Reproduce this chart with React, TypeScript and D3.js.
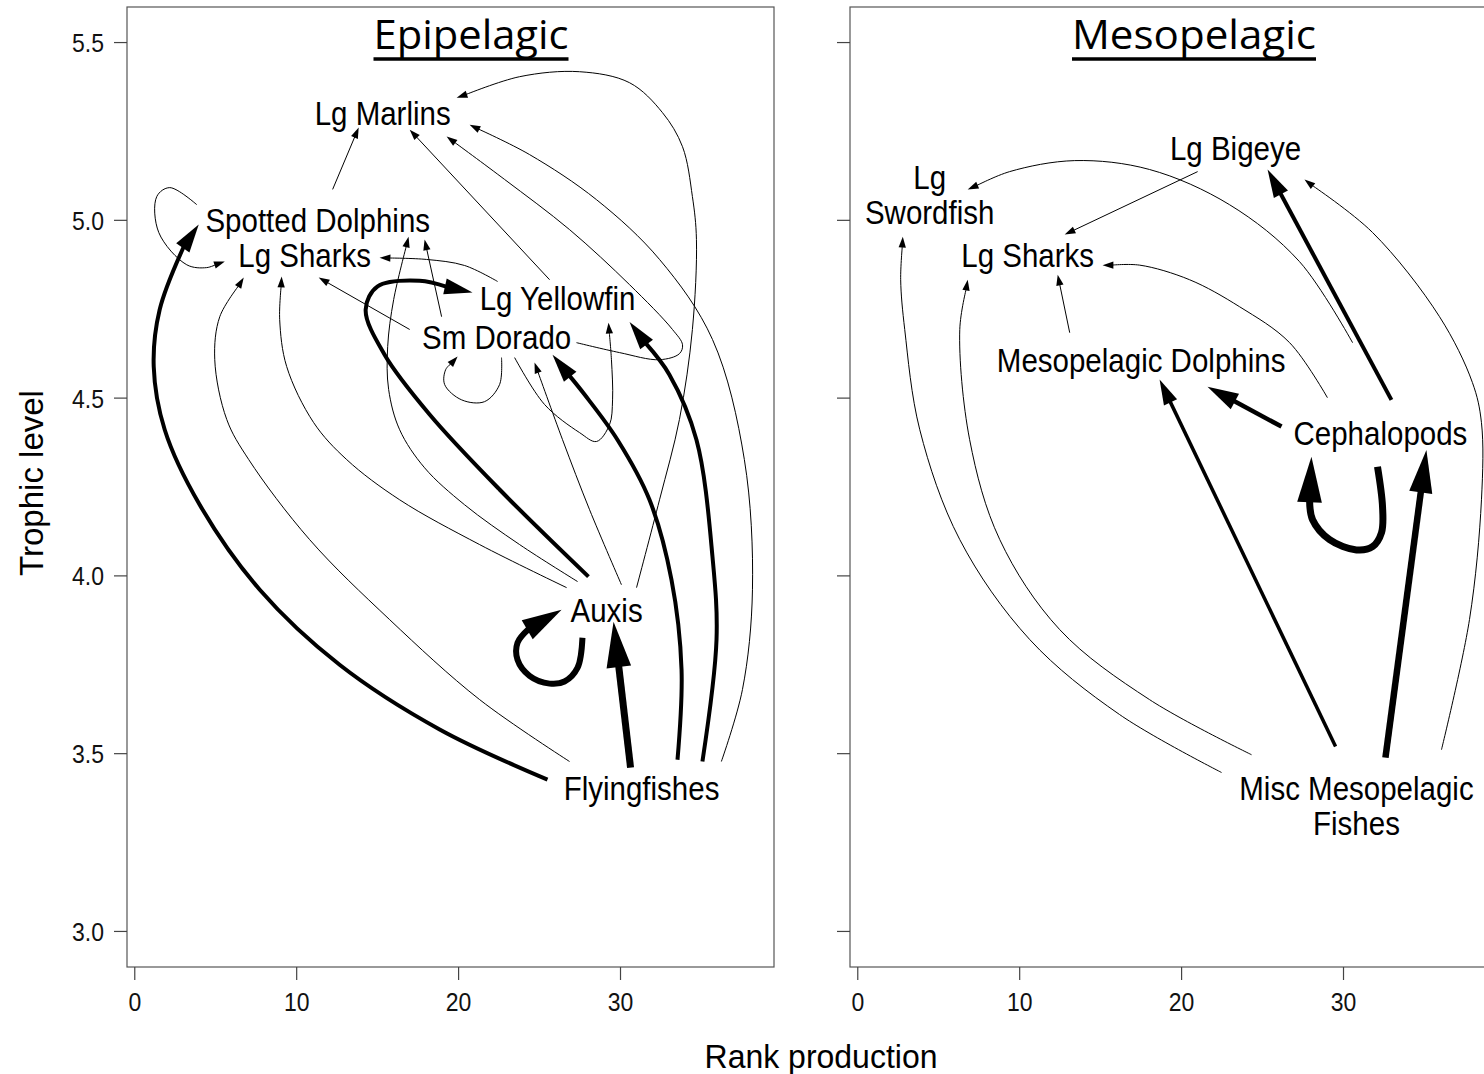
import React from "react";
import * as d3 from "d3";

type Pt = [number, number];
type Node = { id: string; lines: string[]; rank: number; tl: number };
type Edge = { from: string; to: string; w: number; path: Pt[] };

// ---------- data ----------
const xTicks = [0, 10, 20, 30];
const yTicks = [3.0, 3.5, 4.0, 4.5, 5.0, 5.5];
const xDomain: Pt = [-0.48, 39.48];
const yDomain: Pt = [2.9, 5.6];

const epiNodes: Node[] = [
  { id: "LM", lines: ["Lg Marlins"], rank: 15.31, tl: 5.303 },
  { id: "SD", lines: ["Spotted Dolphins"], rank: 11.3, tl: 5.002 },
  { id: "LS", lines: ["Lg Sharks"], rank: 10.49, tl: 4.901 },
  { id: "LY", lines: ["Lg Yellowfin"], rank: 26.11, tl: 4.78 },
  { id: "SMD", lines: ["Sm Dorado"], rank: 22.35, tl: 4.673 },
  { id: "AU", lines: ["Auxis"], rank: 29.14, tl: 3.905 },
  { id: "FF", lines: ["Flyingfishes"], rank: 31.3, tl: 3.404 },
];

const epiEdges: Edge[] = [
  { from: "SD", to: "LM", w: 1, path: [[12.22, 5.087], [13.83, 5.261]] },
  { from: "AU", to: "LM", w: 1, path: [[30.99, 3.967], [32.41, 4.214], [33.64, 4.44], [34.44, 4.693], [34.69, 4.946], [34.44, 5.067], [33.83, 5.207], [32.59, 5.303], [30.56, 5.387], [27.47, 5.418], [23.77, 5.404], [19.88, 5.345]] },
  { from: "FF", to: "LM", w: 1, path: [[36.23, 3.478], [37.53, 3.68], [38.15, 3.961], [37.65, 4.327], [35.68, 4.665], [32.41, 4.89], [28.52, 5.058], [24.38, 5.185], [20.68, 5.269]] },
  { from: "LY", to: "LM", w: 1, path: [[25.62, 4.833], [16.98, 5.255]] },
  { from: "SMD", to: "LM", w: 1, path: [[27.28, 4.656], [29.94, 4.628], [32.41, 4.608], [33.64, 4.625], [33.83, 4.65], [33.21, 4.693], [30.56, 4.819], [26.85, 4.974], [22.84, 5.115], [19.26, 5.236]] },
  { from: "SD", to: "LS", w: 1, path: [[3.83, 5.044], [2.16, 5.092], [1.36, 5.067], [1.48, 4.966], [3.21, 4.875], [4.44, 4.867], [5.56, 4.884]] },
  { from: "FF", to: "SD", w: 4, path: [[25.49, 3.427], [18.83, 3.568], [12.65, 3.75], [7.72, 3.961], [4.01, 4.2], [1.85, 4.411], [1.17, 4.589], [1.54, 4.749], [2.9, 4.918], [3.95, 4.988]] },
  { from: "AU", to: "SD", w: 1, path: [[27.35, 3.984], [23.77, 4.088], [20.37, 4.2], [17.9, 4.304], [16.36, 4.411], [15.68, 4.524], [15.62, 4.645], [15.99, 4.777], [16.91, 4.954]] },
  { from: "SMD", to: "SD", w: 1, path: [[18.95, 4.729], [17.9, 4.946]] },
  { from: "FF", to: "LS", w: 1, path: [[26.85, 3.478], [21.3, 3.652], [15.74, 3.877], [10.8, 4.102], [7.04, 4.327], [5.68, 4.44], [4.94, 4.608], [5.25, 4.729], [6.73, 4.839]] },
  { from: "AU", to: "LS", w: 1, path: [[26.67, 3.967], [21.3, 4.088], [16.36, 4.214], [13.09, 4.327], [11.05, 4.431], [9.38, 4.589], [8.95, 4.721], [9.07, 4.842]] },
  { from: "SMD", to: "LS", w: 1, path: [[16.98, 4.693], [11.36, 4.839]] },
  { from: "LY", to: "LS", w: 1, path: [[22.41, 4.828], [20.37, 4.873], [18.02, 4.89], [15.12, 4.895]] },
  { from: "AU", to: "LY", w: 4, path: [[28.02, 3.998], [22.53, 4.243], [18.21, 4.454], [15.43, 4.622], [14.26, 4.749], [15.0, 4.814], [17.59, 4.83], [20.86, 4.797]] },
  { from: "SMD", to: "LY", w: 1, path: [[23.46, 4.614], [25.31, 4.482], [27.47, 4.403], [28.52, 4.378], [29.32, 4.425], [29.51, 4.495], [29.44, 4.608], [29.26, 4.712]] },
  { from: "FF", to: "LY", w: 4, path: [[35.06, 3.478], [35.93, 3.821], [35.68, 4.054], [34.69, 4.383], [33.02, 4.566], [30.56, 4.714]] },
  { from: "SMD", to: "SMD", w: 1, path: [[22.65, 4.614], [22.53, 4.538], [21.6, 4.49], [20.19, 4.495], [19.14, 4.538], [19.2, 4.58], [19.94, 4.617]] },
  { from: "AU", to: "SMD", w: 1, path: [[30.06, 3.975], [28.09, 4.186], [26.42, 4.383], [24.69, 4.6]] },
  { from: "FF", to: "SMD", w: 4, path: [[33.52, 3.483], [33.77, 3.736], [33.15, 3.989], [31.79, 4.214], [29.81, 4.383], [27.78, 4.51], [25.8, 4.622]] },
  { from: "AU", to: "AU", w: 6, path: [[27.65, 3.826], [27.35, 3.742], [26.54, 3.703], [25.62, 3.697], [24.38, 3.719], [23.64, 3.764], [23.64, 3.812], [24.26, 3.849], [26.36, 3.905]] },
  { from: "FF", to: "AU", w: 7, path: [[30.62, 3.461], [29.57, 3.871]] },
];

const mesoNodes: Node[] = [
  { id: "LB", lines: ["Lg Bigeye"], rank: 23.33, tl: 5.202 },
  { id: "LSw", lines: ["Lg", "Swordfish"], rank: 4.44, tl: 5.072 },
  { id: "LS", lines: ["Lg Sharks"], rank: 10.49, tl: 4.901 },
  { id: "MD", lines: ["Mesopelagic Dolphins"], rank: 17.5, tl: 4.606 },
  { id: "CE", lines: ["Cephalopods"], rank: 32.28, tl: 4.403 },
  { id: "MF", lines: ["Misc Mesopelagic", "Fishes"], rank: 30.8, tl: 3.354 },
];

const mesoEdges: Edge[] = [
  { from: "LB", to: "LS", w: 1, path: [[20.99, 5.137], [12.78, 4.96]] },
  { from: "CE", to: "LSw", w: 1, path: [[30.56, 4.656], [27.28, 4.884], [22.96, 5.044], [18.02, 5.143], [13.4, 5.168], [9.38, 5.137], [6.79, 5.087]] },
  { from: "CE", to: "LB", w: 4, path: [[32.96, 4.495], [25.31, 5.143]] },
  { from: "MF", to: "LB", w: 1, path: [[36.05, 3.511], [37.78, 3.877], [38.52, 4.214], [38.52, 4.431], [37.96, 4.544], [35.93, 4.729], [31.79, 4.966], [27.59, 5.115]] },
  { from: "MF", to: "LSw", w: 1, path: [[22.47, 3.447], [16.17, 3.61], [10.62, 3.821], [6.3, 4.102], [3.83, 4.411], [2.9, 4.693], [2.65, 4.833], [2.78, 4.954]] },
  { from: "MF", to: "LS", w: 1, path: [[24.32, 3.497], [18.02, 3.652], [12.47, 3.849], [8.77, 4.102], [6.91, 4.383], [6.3, 4.693], [6.79, 4.833]] },
  { from: "MD", to: "LS", w: 1, path: [[13.09, 4.684], [12.35, 4.847]] },
  { from: "CE", to: "LS", w: 1, path: [[29.01, 4.501], [26.67, 4.656], [23.58, 4.757], [20.49, 4.833], [17.41, 4.874], [15.12, 4.874]] },
  { from: "CE", to: "MD", w: 4.5, path: [[26.17, 4.42], [21.6, 4.532]] },
  { from: "MF", to: "MD", w: 3.5, path: [[29.51, 3.52], [18.64, 4.552]] },
  { from: "MF", to: "CE", w: 6.5, path: [[32.59, 3.489], [35.12, 4.354]] },
  { from: "CE", to: "CE", w: 7, path: [[32.1, 4.307], [32.41, 4.195], [32.35, 4.122], [31.79, 4.082], [30.8, 4.073], [29.14, 4.102], [28.09, 4.158], [27.9, 4.206], [28.02, 4.335]] },
];

// ---------- layout ----------
const W = 1484;
const H = 1074;
const PANEL_W = 647;
const TOP = 7;
const BOTTOM = 967;
const SANS = "'Liberation Sans', Arial, Helvetica, sans-serif";

const panels = [
  { key: "epi", left: 127, title: "Epipelagic", titleW: 195, nodes: epiNodes, edges: epiEdges, yLabels: true },
  { key: "meso", left: 850, title: "Mesopelagic", titleW: 244, nodes: mesoNodes, edges: mesoEdges, yLabels: false },
];

function arrowGeom(pts: Pt[], w: number) {
  const n = pts.length;
  const tip = pts[n - 1];
  const prev = pts[n - 2];
  const dx = tip[0] - prev[0];
  const dy = tip[1] - prev[1];
  const d = Math.hypot(dx, dy) || 1;
  const ux = dx / d;
  const uy = dy / d;
  const L = 5 + 5.8 * w;
  const Hh = 2.2 + 1.45 * w;
  const bx = tip[0] - ux * L;
  const by = tip[1] - uy * L;
  const endX = tip[0] - ux * (L - 2);
  const endY = tip[1] - uy * (L - 2);
  let body = pts.slice(0, n - 1);
  if (n > 2 && d < L * 1.1) body = pts.slice(0, n - 2);
  body = [...body, [endX, endY]];
  const nx = -uy;
  const ny = ux;
  const head = `M${tip[0]},${tip[1]}L${bx + nx * Hh},${by + ny * Hh}L${bx - nx * Hh},${by - ny * Hh}Z`;
  return { body, head };
}

function Panel({ p }: { p: (typeof panels)[number] }) {
  const x = d3.scaleLinear().domain(xDomain).range([p.left, p.left + PANEL_W]);
  const y = d3.scaleLinear().domain(yDomain).range([BOTTOM, TOP]);
  const line = d3.line<Pt>().curve(d3.curveCatmullRom.alpha(0.5));
  const titleX = p.left + 344;
  return (
    <g>
      <rect x={p.left} y={TOP} width={PANEL_W} height={BOTTOM - TOP} fill="none" stroke="#555" strokeWidth={1.2} />
      {yTicks.map((t) => (
        <g key={t}>
          <line x1={p.left - 13} x2={p.left} y1={y(t)} y2={y(t)} stroke="#444" strokeWidth={1.2} />
          {p.yLabels && (
            <text transform={`translate(${p.left - 23},${y(t)}) scale(1,1.15)`} dy="0.36em" textAnchor="end" fontSize={23} fontFamily={SANS} fill="#111">
              {t.toFixed(1)}
            </text>
          )}
        </g>
      ))}
      {xTicks.map((t) => (
        <g key={t}>
          <line x1={x(t)} x2={x(t)} y1={BOTTOM} y2={BOTTOM + 13} stroke="#444" strokeWidth={1.2} />
          <text transform={`translate(${x(t)},${1001}) scale(1,1.15)`} dy="0.36em" textAnchor="middle" fontSize={23} fontFamily={SANS} fill="#111">
            {t}
          </text>
        </g>
      ))}
      <text x={titleX} y={49} textAnchor="middle" fontSize={40} fontFamily="'Open Sans', Lato, sans-serif" textLength={p.titleW} lengthAdjust="spacingAndGlyphs" fill="#000">
        {p.title}
      </text>
      <line x1={titleX - p.titleW / 2} x2={titleX + p.titleW / 2} y1={59} y2={59} stroke="#000" strokeWidth={3.5} />
      {p.edges.map((e, i) => {
        const pts = e.path.map((q) => [x(q[0]), y(q[1])] as Pt);
        const g = arrowGeom(pts, e.w);
        return (
          <g key={i}>
            <path d={line(g.body) || ""} fill="none" stroke="#000" strokeWidth={e.w} strokeLinecap="butt" strokeLinejoin="round" />
            <path d={g.head} fill="#000" stroke="none" />
          </g>
        );
      })}
      {p.nodes.map((n) => (
        <text key={n.id} transform={`translate(${x(n.rank)},${y(n.tl)}) scale(1,1.12)`} textAnchor="middle" fontSize={29.5} fontFamily={SANS} fill="#000">
          {n.lines.map((l, i) => (
            <tspan key={i} x={0} dy={i === 0 ? `${0.36 - ((n.lines.length - 1) * 1.08) / 2}em` : "1.08em"}>
              {l}
            </tspan>
          ))}
        </text>
      ))}
    </g>
  );
}

export default function App() {
  return (
    <svg width={W} height={H} viewBox={`0 0 ${W} ${H}`} style={{ position: "absolute", left: 0, top: 0, background: "#fff" }}>
      <rect x={0} y={0} width={W} height={H} fill="#fff" />
      {panels.map((p) => (
        <Panel key={p.key} p={p} />
      ))}
      <text transform={`translate(31,483) rotate(-90)`} dy="0.36em" textAnchor="middle" fontSize={33} fontFamily={SANS} fill="#000">
        Trophic level
      </text>
      <text transform={`translate(821,1056) scale(1,1.05)`} dy="0.36em" textAnchor="middle" fontSize={32} fontFamily={SANS} fill="#000">
        Rank production
      </text>
    </svg>
  );
}
